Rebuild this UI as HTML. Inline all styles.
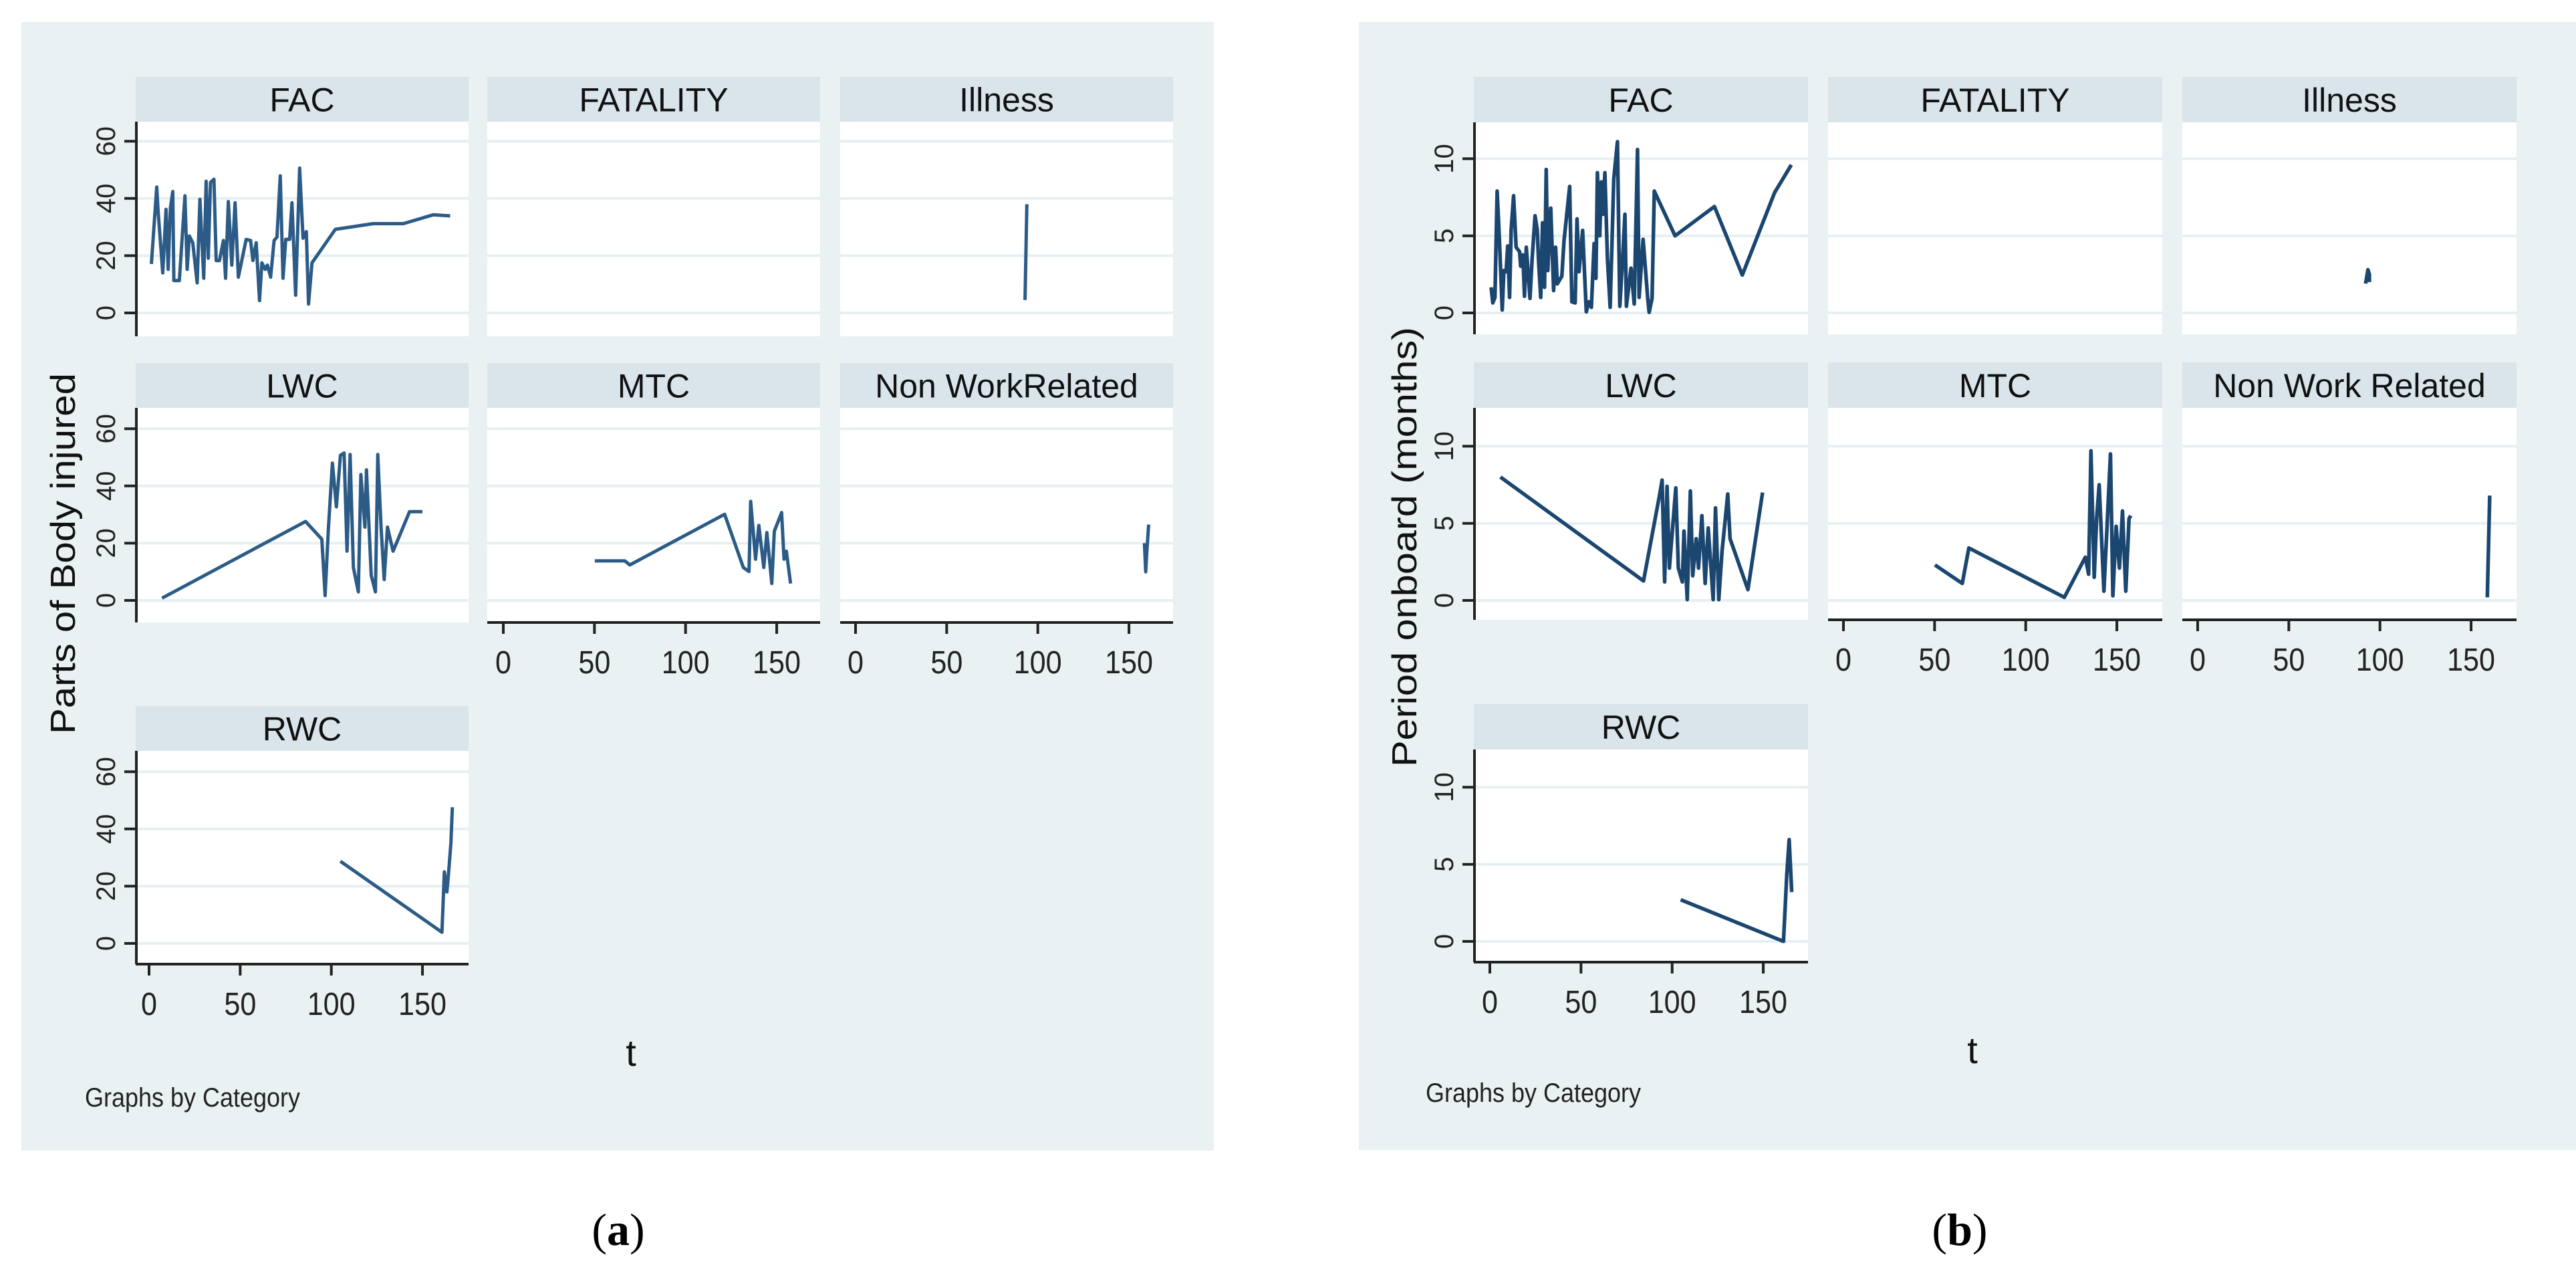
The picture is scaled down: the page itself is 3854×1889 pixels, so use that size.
<!DOCTYPE html>
<html><head><meta charset="utf-8"><style>
html,body{margin:0;padding:0;background:#fff;}
svg{display:block;font-family:"Liberation Sans",Arial,sans-serif;}
</style></head><body>
<svg id="chart" xmlns="http://www.w3.org/2000/svg" width="3854" height="1889" viewBox="0 0 3854 1889"></svg>
<script>
// ---- data: panel (a) Parts of Body injured ----
const categories = ["FAC","FATALITY","Illness","LWC","MTC","Non WorkRelated","RWC"];
const categoriesB = ["FAC","FATALITY","Illness","LWC","MTC","Non Work Related","RWC"];
const yTicksA = [0,20,40,60];
const yTicksB = [0,5,10];
const xTicks = [0,50,100,150];

const aFAC_t = [1.3,4.2,5,7.5,9.3,10.5,11.7,13,13.6,16.6,19.7,20.9,22.1,24,26.4,27.9,30,31.3,32.5,33.7,35.6,36.8,38.6,40.8,42,43.5,45.4,47.2,49,53.3,55.7,57,58.8,60.6,61.9,63.7,64.9,66.7,68.6,70.2,72,73.5,75,77.1,78.4,80.4,82.6,84.5,86.3,87.5,89.4,102.2,123,139.5,156,165.2];
const aFAC_v = [17.1,44,35.4,14,36.2,15.2,36.6,42.4,11.3,11.3,40.9,15.2,26.9,24.5,10.5,39.7,12.1,46,19.1,45.6,46.7,18.3,18.3,25.3,12.1,38.9,16.7,38.5,12.5,25.7,25.3,18.3,24.5,4.3,17.5,15.2,16.7,12.5,25.3,26.5,47.9,12.1,25.7,25.7,38.5,6.2,50.6,26.1,28.4,3.1,17.5,29.2,31.2,31.2,34.3,33.9];
const aIll_t = [92.8,93,94];
const aIll_v = [4.5,5,38];
const aLWC_t = [7.1,85.9,94.8,96.6,98.3,100.6,102.8,105,107,108.6,110.3,112.1,114.8,116.2,118.4,119.3,121.9,124.2,125.5,127.3,129,130.8,133.9,142.9,150];
const aLWC_v = [0.8,27.6,21.4,1.7,24.2,48,32.7,50.7,51.5,17.2,51,11.5,3,44,25.6,45.6,8.7,3,51,25.6,7.3,25.6,17.2,31,31];
const aMTC_t = [50.2,66.7,69.4,121.4,131.7,134.8,135.7,138.4,140.2,142.9,144.6,147.3,148.7,152.7,154,155.3,157.6];
const aMTC_v = [13.8,13.8,12.4,30.1,11.5,10.1,34.6,14.4,26.2,11.5,23.7,5.9,24.2,30.7,14.4,17.2,5.9];
const aNWR_t = [158.5,159.2,159.8,160.8];
const aNWR_v = [20,10,17,26.5];
const aRWC_t = [105,160.7,162,163.4,164.2,165.6,166.4];
const aRWC_v = [28.7,3.9,25,18,23.7,35,47.6];

// ---- data: panel (b) Period onboard (months) ----
const bFAC_t = [0.7,1.6,2.8,4,5.3,6.8,7.7,8.9,9.8,10.8,11.7,13,14.4,16.3,16.9,18.1,19,20,22,23.2,24.8,26,26.7,27.9,28.9,30,30.9,31.8,33.4,35,36.1,37,39.5,40.7,43.8,45,46.8,47.8,48.9,50.9,52.9,54.2,55.7,57.2,58.2,59,60.3,61.2,62.1,63.1,64.5,66,68,70,71.3,72.5,74.1,74.9,77.4,79.2,81,81.9,84.1,86.6,87.4,89,90.2,101.6,123.2,138.5,156.2,165.4];
const bFAC_v = [1.66,0.65,1.0,7.9,4.55,0.19,2.75,2.67,4.34,1.0,5.4,7.6,4.26,3.97,3.03,3.76,1.08,4.26,0.94,3.54,6.3,5.4,3.4,1.0,5.85,1.66,9.3,2.75,6.8,1.45,4.26,1.88,2.38,4.7,8.2,0.72,0.65,6.1,2.67,5.35,0.07,0.72,0.36,4.5,2.24,9.1,5,8.5,6.4,9.1,3.54,0.36,8.7,11.1,0.43,2.75,6.4,0.43,2.9,0.58,10.6,1.0,4.77,0.94,0.04,0.94,7.9,5,6.9,2.46,7.8,9.6];
const bIll_t = [92.1,93.4,94.2,94.2];
const bIll_v = [1.9,2.8,2.5,2.0];
const bLWC_t = [5.8,84.3,93.2,94.5,95.9,97.2,98.5,102,103.4,105.6,106.5,108.3,110,111.3,113.2,114.5,116.3,118.1,119.8,122.5,123.8,125.6,127.4,129.2,130.5,131.8,141.6,149.6];
const bLWC_v = [8.0,1.26,6.9,7.8,1.2,7.4,2.1,7.3,2.1,1.2,4.5,0.05,7.1,1.6,4.0,2.1,5.5,1.1,4.7,0.05,6.0,0.05,3.2,5.3,6.9,4.0,0.7,7.0];
const bMTC_t = [50.2,65.2,68.8,121.2,132.7,134.5,135.8,137.6,138.9,140.3,142.9,144.7,146.5,147.8,149.6,151.4,153.1,154.9,156.7,157.6];
const bMTC_v = [2.3,1.1,3.4,0.2,2.8,1.7,9.7,1.5,5.3,7.5,0.6,5.0,9.5,0.3,4.8,2.1,5.8,0.6,5.3,5.5];
const bNWR_t = [158.9,160.2];
const bNWR_v = [0.2,6.8];
const bRWC_t = [104.7,161.1,162.9,164.2,165.6];
const bRWC_v = [2.7,0,4.3,6.6,3.2];

const NS = "http://www.w3.org/2000/svg";
const svg = document.getElementById("chart");
function mk(tag, attrs, parent, text){
  const e = document.createElementNS(NS, tag);
  for (const k in attrs) e.setAttribute(k, attrs[k]);
  if (text !== undefined) e.textContent = text;
  (parent||svg).appendChild(e);
  return e;
}

function drawFigure(F){
  const g = mk("g", {});
  
  
  const bg = mk("rect", {x:F.bg[0], y:F.bg[1], width:F.bg[2], height:F.bg[3], fill:"#e9f1f3"}, g);
  
  
  const cells = [[0,0],[0,1],[0,2],[1,0],[1,1],[1,2],[2,0]];
  cells.forEach(([r,c], i) => {
    const px = F.colX[c], sy = F.stripY[r];
    const pTop = sy + F.stripH, pBot = F.plotBot[r];
    const cg = mk("g", {}, g);
    
    
    const strip = mk("rect", {x:px, y:sy, width:F.colW, height:F.stripH, fill:"#d9e5eb"}, cg);
    
    
    const st = mk("text", {x:px+F.colW/2, y:sy+F.stripH/2+18, "font-size":50, "text-anchor":"middle", fill:"#111"}, cg, F.labels[i]);
    
    
    const pr = mk("rect", {x:px, y:pTop, width:F.colW, height:pBot-pTop, fill:"#ffffff"}, cg);
    
    
    const yS = v => F.y0[r] - v*F.yPer;
    const xS = t => F.x0[c] + t*F.xPer;
    F.yTicks.forEach(v => {
      const gl = mk("line", {x1:px, x2:px+F.colW, y1:yS(v), y2:yS(v), stroke:"#e6eff2", "stroke-width":4}, cg);
      
      
    });
    if (c === 0){
      const ax = mk("line", {x1:px+1, x2:px+1, y1:pTop, y2:pBot, stroke:"#222", "stroke-width":4}, cg);
      
      
      F.yTicks.forEach(v => {
        const tk = mk("line", {x1:px-17, x2:px, y1:yS(v), y2:yS(v), stroke:"#222", "stroke-width":4}, cg);
        
        
        const yy = yS(v);
        const tl = mk("text", {x:0, y:0, "font-size":40, "text-anchor":"middle", fill:"#222", transform:`translate(${px-31},${yy}) rotate(-90)`}, cg, String(v));
        
        
      });
    }
    if (F.xAxisRows[c] === r){
      const ax = mk("line", {x1:px, x2:px+F.colW, y1:pBot, y2:pBot, stroke:"#222", "stroke-width":4}, cg);
      
      
      xTicks.forEach(t => {
        const tk = mk("line", {x1:xS(t), x2:xS(t), y1:pBot, y2:pBot+17, stroke:"#222", "stroke-width":4}, cg);
        
        
        const s = String(t);
        const tl = mk("text", {x:xS(t), y:pBot+76, "font-size":48, "text-anchor":"middle", fill:"#222", textLength:s.length*24, lengthAdjust:"spacingAndGlyphs"}, cg, s);
        
        
      });
    }
    const ser = F.series[i];
    if (ser){
      const pts = ser[0].map((t,k) => xS(t).toFixed(1)+","+yS(ser[1][k]).toFixed(1)).join(" ");
      const pl = mk("polyline", {points:pts, fill:"none", stroke:F.lineColor, "stroke-width":F.lineW, "stroke-linejoin":"round"}, cg);
      
      
    }
  });
  const yt = mk("text", {x:0, y:0, "font-size":52, "text-anchor":"middle", fill:"#111", textLength:F.yTitleLen, lengthAdjust:"spacingAndGlyphs", transform:`translate(${F.yTitlePos[0]},${F.yTitlePos[1]}) rotate(-90)`}, g, F.yTitle);
  
  
  const xt = mk("text", {x:F.tPos[0], y:F.tPos[1], "font-size":56, "text-anchor":"middle", fill:"#111"}, g, "t");
  
  
  const note = mk("text", {x:F.notePos[0], y:F.notePos[1], "font-size":40, fill:"#222", textLength:322, lengthAdjust:"spacingAndGlyphs"}, g, "Graphs by Category");
  
  
  const cap = mk("text", {x:F.capPos[0], y:F.capPos[1], "font-size":68, "text-anchor":"middle", fill:"#000", "font-family":"Liberation Serif, serif"}, g);
  
  
  mk("tspan", {}, cap, "(");
  mk("tspan", {"font-weight":"bold"}, cap, F.capLetter);
  mk("tspan", {}, cap, ")");
}

drawFigure({
  name:"panel-a", bg:[32,33,1784,1688],
  colX:[203,729,1257], colW:498, stripY:[115,543,1056], stripH:67, plotBot:[503,931,1442],
  y0:[468,898,1411], yPer:4.28, x0:[223,753,1280], xPer:2.727,
  yTicks:yTicksA, xAxisRows:[2,1,1], labels:categories,
  series:[[aFAC_t,aFAC_v],null,[aIll_t,aIll_v],[aLWC_t,aLWC_v],[aMTC_t,aMTC_v],[aNWR_t,aNWR_v],[aRWC_t,aRWC_v]],
  lineColor:"#2b5b86", lineW:5,
  yTitle:"Parts of Body injured", yTitleLen:540, yTitlePos:[112,828],
  tPos:[944,1594], notePos:[127,1655], capPos:[925,1862], capLetter:"a"
});
drawFigure({
  name:"panel-b", bg:[2033,33,1821,1687],
  colX:[2205,2735,3265], colW:500, stripY:[115,542,1053], stripH:68, plotBot:[500,927,1439],
  y0:[468,898,1408], yPer:23.06, x0:[2229,2758,3288], xPer:2.727,
  yTicks:yTicksB, xAxisRows:[2,1,1], labels:categoriesB,
  series:[[bFAC_t,bFAC_v],null,[bIll_t,bIll_v],[bLWC_t,bLWC_v],[bMTC_t,bMTC_v],[bNWR_t,bNWR_v],[bRWC_t,bRWC_v]],
  lineColor:"#1b4670", lineW:5.5,
  yTitle:"Period  onboard (months)", yTitleLen:658, yTitlePos:[2119,818],
  tPos:[2951,1590], notePos:[2133,1648], capPos:[2932,1862], capLetter:"b"
});
</script>
</body></html>
